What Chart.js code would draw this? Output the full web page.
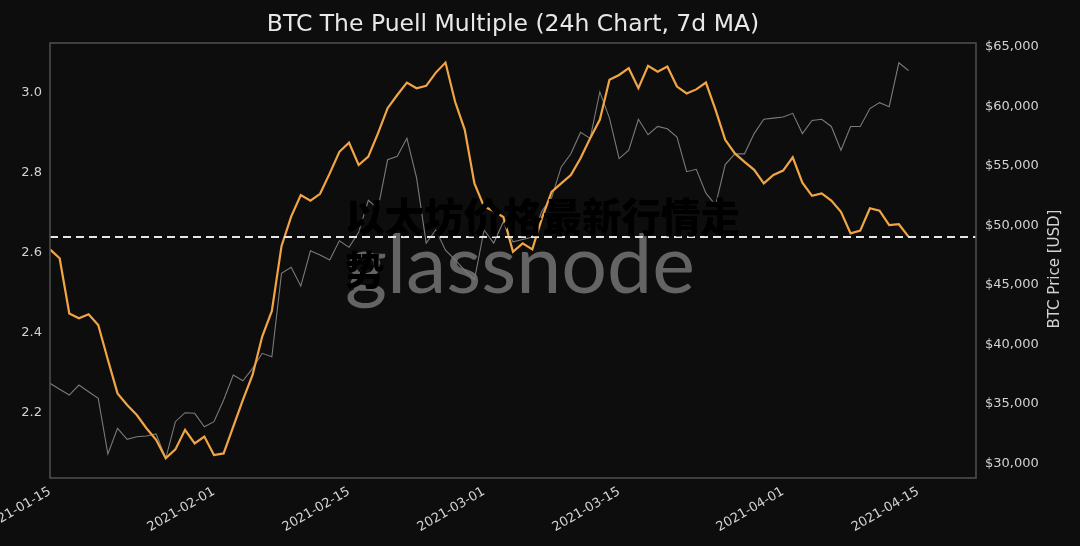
<!DOCTYPE html>
<html>
<head>
<meta charset="utf-8">
<script src="https://cdn.jsdelivr.net/npm/chart.js@4.4.1/dist/chart.umd.min.js"></script>
<style>
  html, body { margin: 0; padding: 0; background: #0d0d0d; }
  #wrap { position: relative; width: 1080px; height: 546px; }
  #overlay {
    position: absolute; left: 345px; top: 188px; width: 405px;
    font-family: "Noto Sans CJK SC"; font-weight: 900; font-size: 39.5px;
    line-height: 53px; color: #000;
  }
</style>
</head>
<body>
<div id="wrap">
  <canvas id="chart" width="1080" height="546"></canvas>
  <div id="overlay">以太坊价格最新行情走势</div>
</div>
<script>
// data, one value per day starting 2021-01-15
const startDate = '2021-01-15';
const endDay = 96; // x axis runs to 2021-04-21

const puellMultiple = [
  2.609, 2.587, 2.449, 2.437, 2.447, 2.42, 2.333, 2.249, 2.22, 2.195,
  2.162, 2.133, 2.087, 2.109, 2.158, 2.124, 2.141, 2.095, 2.099, 2.166,
  2.233, 2.295, 2.391, 2.455, 2.617, 2.691, 2.745, 2.731, 2.748, 2.799,
  2.853, 2.876, 2.82, 2.841, 2.899, 2.962, 2.995, 3.026, 3.012, 3.018,
  3.051, 3.076, 2.978, 2.908, 2.774, 2.716, 2.705, 2.69, 2.603, 2.624,
  2.609, 2.687, 2.753, 2.774, 2.795, 2.837, 2.887, 2.933, 3.033, 3.045,
  3.062, 3.012, 3.068, 3.053, 3.066, 3.016, 2.999, 3.009, 3.026, 2.958,
  2.883, 2.849, 2.828, 2.808, 2.774, 2.795, 2.806, 2.839, 2.776, 2.743,
  2.749, 2.731, 2.703, 2.649, 2.656, 2.712, 2.706, 2.67, 2.672, 2.641
];

const btcPrice = [
  36720, 36216, 35737, 36577, 36014, 35460, 30781, 32940, 32016, 32234,
  32293, 32461, 30420, 33494, 34250, 34200, 33074, 33494, 35317, 37417,
  36938, 37980, 39240, 38950, 45960, 46464, 44893, 47858, 47497, 47077,
  48698, 48144, 49400, 52100, 51400, 55500, 55800, 57300, 54000, 48500,
  49600, 47900, 47100, 46200, 45400, 49600, 48500, 50300, 48600, 48800,
  49000, 51200, 52300, 54900, 56000, 57800, 57300, 61200, 59000, 55600,
  56300, 58900, 57600, 58300, 58100, 57400, 54500, 54700, 52700, 51700,
  55100, 56000, 56000, 57700, 58900, 59000, 59100, 59400, 57700, 58800,
  58900, 58300, 56300, 58300, 58300, 59800, 60300, 59960, 63650, 63000
];

const dashedLevel = 2.64;

const dateTicks = ['2021-01-15', '2021-02-01', '2021-02-15', '2021-03-01', '2021-03-15', '2021-04-01', '2021-04-15'];
const puellTicks = [2.2, 2.4, 2.6, 2.8, 3.0];
const priceTicks = [30000, 35000, 40000, 45000, 50000, 55000, 60000, 65000];

const titleText = 'BTC The Puell Multiple (24h Chart, 7d MA)';
const priceAxisTitle = 'BTC Price [USD]';

function dayOffset(d) {
  return Math.round((Date.parse(d) - Date.parse(startDate)) / 86400000);
}
const tickByDay = {};
dateTicks.forEach(d => { tickByDay[dayOffset(d)] = d; });

const FONT = 'DejaVu Sans';
const tickColor = '#d2d2d2';

// frame, watermark, title and right axis label
const decor = {
  id: 'decor',
  beforeDatasetsDraw(chart) {
    const { ctx } = chart;
    ctx.save();
    ctx.fillStyle = '#646464';
    let size = 80;
    ctx.font = size + 'px Lato';
    size = size * 350 / ctx.measureText('glassnode').width;
    ctx.font = size + 'px Lato';
    ctx.textBaseline = 'alphabetic';
    ctx.fillText('glassnode', 345, 293);
    ctx.restore();
  },
  afterDraw(chart) {
    const { ctx, chartArea: a } = chart;
    ctx.save();
    ctx.strokeStyle = '#505050';
    ctx.lineWidth = 1.5;
    ctx.strokeRect(a.left, a.top, a.right - a.left, a.bottom - a.top);

    ctx.fillStyle = '#e8e8e8';
    ctx.font = '23.5px "' + FONT + '"';
    ctx.textAlign = 'center';
    ctx.textBaseline = 'middle';
    ctx.fillText(titleText, (a.left + a.right) / 2, 25);

    ctx.fillStyle = tickColor;
    ctx.font = '15px "' + FONT + '"';
    ctx.translate(1055, 269);
    ctx.rotate(-Math.PI / 2);
    ctx.fillText(priceAxisTitle, 0, 0);
    ctx.restore();
  }
};

const ctx = document.getElementById('chart').getContext('2d');
new Chart(ctx, {
  type: 'line',
  data: {
    datasets: [
      {
        data: [{ x: 0, y: dashedLevel }, { x: endDay, y: dashedLevel }],
        borderColor: '#e6e6e6',
        borderWidth: 2,
        borderDash: [8, 5],
        pointRadius: 0,
        yAxisID: 'y'
      },
      {
        label: 'Puell Multiple',
        data: puellMultiple.map((v, i) => ({ x: i, y: v })),
        borderColor: '#f2a545',
        borderWidth: 2.2,
        pointRadius: 0,
        tension: 0,
        yAxisID: 'y'
      },
      {
        label: 'BTC Price',
        data: btcPrice.map((v, i) => ({ x: i, y: v })),
        borderColor: '#7a7a7a',
        borderWidth: 1.1,
        pointRadius: 0,
        tension: 0,
        yAxisID: 'y1'
      }
    ]
  },
  options: {
    responsive: false,
    animation: false,
    layout: { padding: { top: 43, left: 0, right: 0, bottom: 0 } },
    plugins: {
      legend: { display: false },
      tooltip: { enabled: false },
      title: { display: false }
    },
    scales: {
      x: {
        type: 'linear',
        min: 0,
        max: endDay,
        afterBuildTicks: s => { s.ticks = dateTicks.map(d => ({ value: dayOffset(d) })); },
        afterFit: s => { s.height = 68; s.paddingLeft = 0; s.paddingRight = 0; },
        grid: { display: false, drawTicks: false },
        border: { display: false },
        ticks: {
          autoSkip: false,
          minRotation: 30,
          maxRotation: 30,
          padding: 6,
          color: tickColor,
          font: { family: FONT, size: 13 },
          callback: v => tickByDay[v] || ''
        }
      },
      y: {
        position: 'left',
        min: 2.0375,
        max: 3.125,
        afterBuildTicks: s => { s.ticks = puellTicks.map(v => ({ value: v })); },
        afterFit: s => { s.width = 50; s.paddingTop = 0; s.paddingBottom = 0; },
        grid: { display: false, drawTicks: false },
        border: { display: false },
        ticks: {
          padding: 8,
          color: tickColor,
          font: { family: FONT, size: 13 },
          callback: v => v.toFixed(1)
        }
      },
      y1: {
        position: 'right',
        min: 28765,
        max: 65311,
        afterBuildTicks: s => { s.ticks = priceTicks.map(v => ({ value: v })); },
        afterFit: s => { s.width = 104; s.paddingTop = 0; s.paddingBottom = 0; },
        grid: { display: false, drawTicks: false },
        border: { display: false },
        ticks: {
          padding: 9,
          color: tickColor,
          font: { family: FONT, size: 13 },
          callback: v => '$' + v.toLocaleString('en-US')
        }
      }
    }
  },
  plugins: [decor]
});
</script>
</body>
</html>
